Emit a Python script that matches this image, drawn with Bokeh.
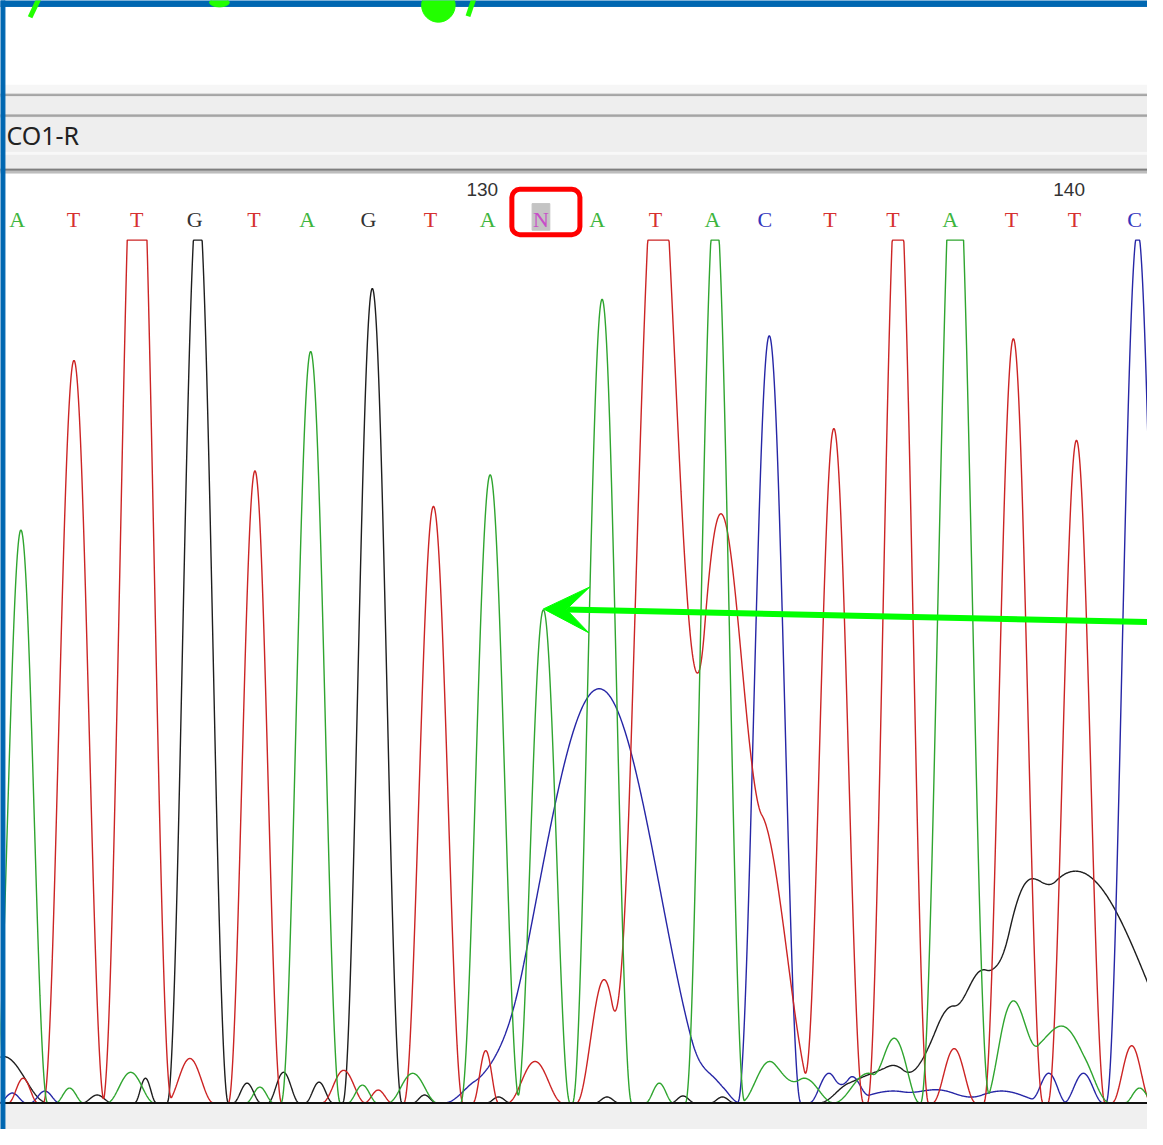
import numpy as np
from bokeh.plotting import figure
from bokeh.models import Range1d, BoxAnnotation, Arrow, VeeHead
from bokeh.embed import file_html
from bokeh.resources import INLINE
from bokeh.core.properties import value

# ---------------- data ----------------
# base calls (first shown base is number 122)
bases = ["A", "T", "T", "G", "T", "A", "G", "T", "A", "N",
         "A", "T", "A", "C", "T", "T", "A", "T", "T", "C"]
base_x = [17, 74, 138, 197, 257, 311, 373, 436, 494, 548,
          605, 664, 722, 775, 841, 905, 963, 1025, 1089, 1150]
first_base_number = 122
sample_name = "CO1-R"

# peaks per dye channel: centre (scan), height (signal), half base width (scan)
A_pos = [20.7, 70, 132, 263, 314.5, 367, 418, 496.5, 550.5, 610, 668, 724.5,
         780, 815, 880, 908, 968, 1025, 1060, 1090, 1155]
A_height = [581, 15, 31, 16, 762, 18, 30, 637, 500, 815, 20, 920,
            42, 25, 30, 62, 1016, 100, 64, 55, 15]
A_width = [27, 14, 24, 14, 30, 15, 25, 30, 27, 30, 14, 30,
           30, 30, 35, 24, 35, 28, 40, 35, 15]

T_pos = [23, 74.5, 138.5, 192, 258, 348, 383, 439, 492, 542, 612, 667,
         724, 768, 845, 910, 967, 1027, 1091, 1147]
T_height = [25, 753, 1080, 45, 641, 33, 13, 605, 53, 42, 125, 1000,
            530, 295, 684, 959, 55, 775, 672, 58]
T_width = [15, 31, 35, 24, 27, 22, 14, 30, 13, 28, 28, 47,
           48, 60, 30, 31, 22, 30, 29, 20]

G_pos = [3, 98, 147, 200, 250, 287, 323, 377, 430, 505, 615, 692, 732,
         865, 905, 960, 995, 1035, 1090]
G_height = [47, 8, 25, 921, 20, 31, 21, 826, 8, 6, 6, 7, 6,
            21, 38, 85, 55, 50, 235]
G_width = [45, 15, 11, 31, 14, 16, 14, 30, 12, 12, 12, 12, 12,
           35, 45, 45, 28, 35, 150]

C_pos = [12, 45, 490, 607, 725, 779.5, 840, 863, 905, 955, 1015, 1063, 1098, 1153]
C_height = [10, 12, 25, 420, 20, 778, 30, 24, 12, 12, 12, 30, 30, 885]
C_width = [14, 15, 40, 126, 25, 32, 20, 18, 60, 40, 50, 18, 20, 32]

CLIP = 875  # display saturation of the trace view

# ---------------- build traces ----------------
scan = np.arange(-20.0, 1190.0, 0.5)


def trace(pos, hgt, wid):
    y = np.zeros_like(scan)
    for c, h, w in zip(pos, hgt, wid):
        d = np.abs(scan - c)
        m = d < w
        y[m] += h * np.cos(np.pi * d[m] / (2.0 * w)) ** 2
    return np.minimum(y, CLIP)


trace_col = {"A": "#2FA52F", "T": "#CC2424", "G": "#1E1E1E", "C": "#2626A6"}
letter_col = {"A": "#3DB53D", "T": "#D63030", "G": "#333333", "C": "#3535BD", "N": "#C84EC8"}


def Yc(Y):  # screen-row of the reference -> plot y
    return 1118 - Y


p = figure(width=1147, height=1129, x_range=Range1d(0, 1163), y_range=Range1d(-27, 1118),
           output_backend="svg", toolbar_location=None, min_border=0,
           x_axis_location=None, y_axis_location=None)
p.grid.visible = False
p.outline_line_color = None
p.background_fill_color = "white"
p.border_fill_color = "white"

# window chrome
p.quad(left=-10, right=1170, top=Yc(86), bottom=Yc(95), color="#F6F6F6")
p.quad(left=-10, right=1170, top=Yc(95), bottom=Yc(97.5), color="#A4A4A4")
p.quad(left=-10, right=1170, top=Yc(97.5), bottom=Yc(116), color="#EEEEEE")
p.quad(left=-10, right=1170, top=Yc(116), bottom=Yc(118.5), color="#A4A4A4")
p.quad(left=-10, right=1170, top=Yc(118.5), bottom=Yc(154), color="#EEEEEE")
p.quad(left=-10, right=1170, top=Yc(154), bottom=Yc(157), color="#F8F8F8")
p.quad(left=-10, right=1170, top=Yc(157), bottom=Yc(171), color="#EDEDED")
p.quad(left=-10, right=1170, top=Yc(171), bottom=Yc(173), color="#7E7E7E")
p.quad(left=-10, right=1170, top=Yc(173), bottom=Yc(175), color="#BDBDBD")
p.quad(left=-10, right=1170, top=Yc(1119), bottom=-40, color="#F0F0F0")

p.text(x=[6], y=[Yc(136)], text=[sample_name], text_color="#222222",
       text_font=value("Noto Sans"), text_font_size="25px",
       text_align="left", text_baseline="middle")

# traces
for ch, (pos, hgt, wid) in {"G": (G_pos, G_height, G_width),
                            "C": (C_pos, C_height, C_width),
                            "T": (T_pos, T_height, T_width),
                            "A": (A_pos, A_height, A_width)}.items():
    p.line(scan, trace(pos, hgt, wid), line_color=trace_col[ch], line_width=1.4)

# base line of the trace view
p.segment(x0=[-10], y0=[0], x1=[1170], y1=[0], line_color="#111111", line_width=2)

# base calls
n_idx = bases.index("N")
p.quad(left=base_x[n_idx] - 9, right=base_x[n_idx] + 9, top=Yc(206), bottom=Yc(233),
       color="#C4C4C4")
p.text(x=base_x, y=[Yc(222)] * len(bases), text=bases,
       text_color=[letter_col[b] for b in bases],
       text_font=value("Liberation Serif"), text_font_size="22px",
       text_align="center", text_baseline="middle")

nums = [first_base_number + i for i in range(len(bases))]
lab_x = [base_x[i] - 5.5 for i, n in enumerate(nums) if n % 10 == 0]
lab_t = [str(n) for n in nums if n % 10 == 0]
p.text(x=lab_x, y=[Yc(192)] * len(lab_x), text=lab_t, text_color="#333333",
       text_font=value("Liberation Sans"), text_font_size="19px",
       text_align="center", text_baseline="middle")

# red box around the ambiguous call
nx = base_x[n_idx]
p.add_layout(BoxAnnotation(left=nx - 29.5, right=nx + 39.5, top=Yc(191.5), bottom=Yc(237.5),
                           fill_alpha=0, line_color="#FF0000", line_alpha=1.0, line_width=5,
                           border_radius=8))

# green arrow to the small A peak under N
k = int(np.argmin(np.abs(np.array(A_pos) - nx)))
tip_x, tip_y = A_pos[k], A_height[k] + 1
p.add_layout(Arrow(end=VeeHead(size=46, fill_color="#00FF00", line_color="#00FF00", line_width=1),
                   x_start=1190, y_start=Yc(631), x_end=tip_x, y_end=tip_y,
                   line_color="#00FF00", line_width=6))

# blue frame of the slide and cut-off green marks above
p.quad(left=-10, right=4.5, top=1130, bottom=-40, color="#0067B1")
p.quad(left=-10, right=1170, top=1130, bottom=Yc(6), color="#0067B1")
p.segment(x0=[30], y0=[Yc(17)], x1=[39], y1=[Yc(-2)], line_color="#22FF00", line_width=5)
p.ellipse(x=[222], y=[Yc(2)], width=20, height=9, color="#22FF00")
p.circle(x=[444], y=[Yc(5)], radius=17, color="#22FF00")
p.segment(x0=[474], y0=[Yc(16)], x1=[480], y1=[Yc(-2)], line_color="#22FF00", line_width=5)

open("out.html", "w").write(file_html(p, INLINE))
